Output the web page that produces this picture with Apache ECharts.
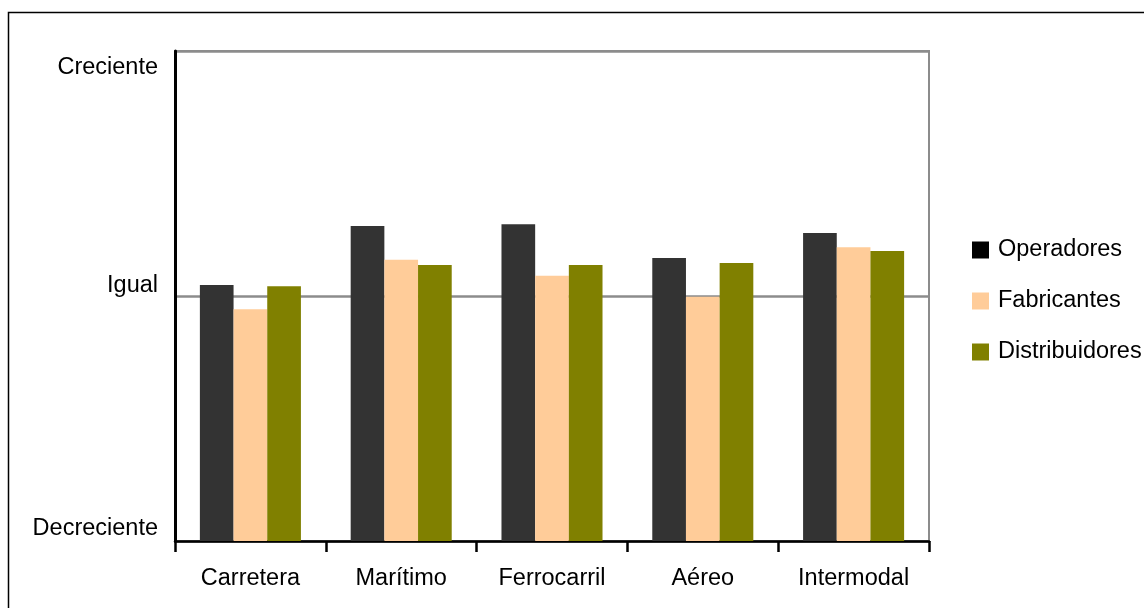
<!DOCTYPE html>
<html>
<head>
<meta charset="utf-8">
<script src="https://cdn.jsdelivr.net/npm/echarts@6/dist/echarts.min.js"></script>
<style>
  html, body { margin: 0; padding: 0; background: #fff; }
  #chart { width: 1144px; height: 608px; }
</style>
</head>
<body>
<div id="chart"></div>
<script>
// Modes of transport on the category axis
const categories = ['Carretera', 'Marítimo', 'Ferrocarril', 'Aéreo', 'Intermodal'];

// Expected trend per group: 1 = Decreciente, 2 = Igual, 3 = Creciente
const operadores     = [2.045, 2.286, 2.293, 2.155, 2.257];
const fabricantes    = [1.946, 2.148, 2.083, 1.997, 2.199];
const distribuidores = [2.040, 2.127, 2.127, 2.135, 2.184];

// Value-axis tick labels (value -> text)
const trendValues = [1, 2, 3];
const trendLabels = ['Decreciente', 'Igual', 'Creciente'];

const FONT = 'Liberation Sans, Arial, sans-serif';
const FS = 23.5;

const chart = echarts.init(document.getElementById('chart'), null, { renderer: 'canvas' });

chart.setOption({
  animation: false,
  backgroundColor: '#ffffff',
  grid: {
    left: 175, right: 215, top: 51, bottom: 67,
    show: true, borderColor: '#8c8c8c', borderWidth: 2, backgroundColor: 'transparent'
  },
  legend: {
    orient: 'vertical',
    left: 972, top: 238,
    padding: 0,
    itemWidth: 17, itemHeight: 17, itemGap: 27,
    icon: 'rect',
    textStyle: { fontFamily: FONT, fontSize: FS, color: '#000', lineHeight: 24, padding: [0, 0, 0, 4] },
    data: [
      { name: 'Operadores', itemStyle: { color: '#000000' } },
      { name: 'Fabricantes' },
      { name: 'Distribuidores' }
    ]
  },
  xAxis: {
    type: 'category',
    data: categories,
    axisLine: { lineStyle: { color: '#000', width: 2.5 } },
    axisTick: { show: true, length: 11, lineStyle: { color: '#000', width: 2.5 } },
    axisLabel: { fontFamily: FONT, fontSize: FS, color: '#000', margin: 26 }
  },
  yAxis: {
    type: 'value',
    min: 1, max: 3, interval: 1,
    axisLine: { show: true, lineStyle: { color: '#000', width: 3 } },
    axisTick: { show: false },
    axisLabel: { show: false },
    splitLine: { lineStyle: { color: '#8c8c8c', width: 2.5 } }
  },
  series: [
    { name: 'Operadores', type: 'bar', data: operadores, barGap: '0%', barCategoryGap: '33%',
      itemStyle: { color: '#333333' } },
    { name: 'Fabricantes', type: 'bar', data: fabricantes,
      itemStyle: { color: '#ffcc99' } },
    { name: 'Distribuidores', type: 'bar', data: distribuidores,
      itemStyle: { color: '#808000' } }
  ]
});

// The trend labels sit slightly off their gridlines; place them from the axis scale.
const labelShift = { 1: -12, 2: -10, 3: 17 };
const graphics = trendValues.map((v, i) => {
  const y = chart.convertToPixel({ yAxisIndex: 0 }, v);
  return {
    type: 'text',
    x: 158, y: y + labelShift[v],
    style: {
      text: trendLabels[i], fontFamily: FONT, fontSize: FS, fill: '#000',
      align: 'right', verticalAlign: 'middle'
    },
    z: 10
  };
});
// Outer chart frame
graphics.push({
  type: 'rect',
  shape: { x: 8.5, y: 12.5, width: 1200, height: 700 },
  style: { fill: 'none', stroke: '#000', lineWidth: 1.5 },
  silent: true, z: 0
});
chart.setOption({ graphic: graphics });
</script>
</body>
</html>
